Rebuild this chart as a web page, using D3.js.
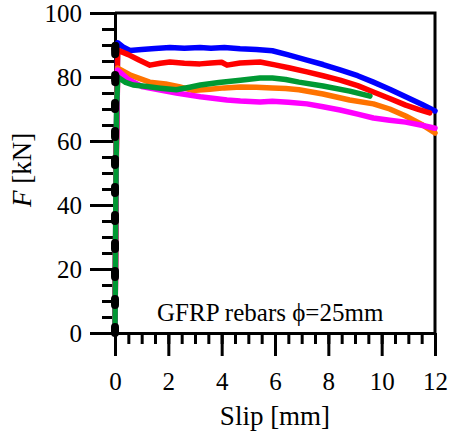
<!DOCTYPE html>
<html>
<head>
<meta charset="utf-8">
<script src="https://cdn.jsdelivr.net/npm/d3@7"></script>
<style>
  body { margin: 0; background: #fff; }
  svg { font-family: "Liberation Serif", "Times New Roman", serif; }
</style>
</head>
<body>
<div id="chart"></div>
<script>
// force vs slip curves, one pair of arrays per specimen
var blueSlip = [0, 0.05, 0.1, 0.3, 0.56, 1.0, 1.5, 2.06, 2.6, 3.19, 3.6, 4.1, 4.69, 5.3, 5.9, 6.5, 7.2, 7.8, 8.44, 9.1, 9.69, 10.3, 10.9, 11.5, 12.0]
var blueF = [0, 60, 90.7, 89.4, 88.3, 88.6, 88.9, 89.2, 89.0, 89.2, 89.0, 89.2, 88.8, 88.6, 88.2, 86.9, 85.3, 83.9, 82.2, 80.4, 78.4, 76.2, 73.8, 71.5, 69.4]
var redSlip = [0, 0.05, 0.1, 0.5, 0.9, 1.31, 1.7, 2.06, 2.6, 3.19, 3.6, 4.0, 4.2, 4.69, 5.44, 6.0, 6.56, 7.2, 7.8, 8.44, 9.1, 9.69, 10.3, 10.9, 11.4, 11.8]
var redF = [0, 60, 88.4, 87.0, 85.3, 83.7, 84.3, 84.7, 84.3, 84.1, 84.4, 84.6, 83.7, 84.4, 84.7, 83.8, 82.8, 81.6, 80.4, 79.0, 77.3, 75.3, 73.3, 71.2, 69.8, 68.8]
var orangeSlip = [0, 0.05, 0.1, 0.6, 1.3, 1.9, 2.4, 2.9, 3.56, 4.1, 4.7, 5.3, 5.9, 6.4, 6.9, 7.8, 8.8, 9.69, 10.3, 10.9, 11.5, 12.0]
var orangeF = [0, 55, 82.8, 80.5, 78.4, 77.8, 77.0, 75.8, 76.2, 76.6, 76.9, 76.8, 76.6, 76.4, 76.0, 74.7, 72.8, 71.6, 70.0, 67.8, 65.2, 62.5]
var magentaSlip = [0, 0.05, 0.1, 0.5, 1.05, 1.7, 2.3, 3.2, 4.2, 4.7, 5.44, 5.9, 6.5, 7.2, 7.8, 8.44, 9.1, 9.69, 10.3, 10.9, 11.5, 12.0]
var magentaF = [0, 55, 82.2, 79.2, 76.9, 75.9, 75.0, 73.8, 72.8, 72.5, 72.2, 72.4, 72.1, 71.6, 70.7, 69.7, 68.4, 67.2, 66.5, 65.9, 64.9, 64.0]
var greenSlip = [0, 0.03, 0.06, 0.1, 0.4, 0.68, 1.2, 1.7, 2.3, 2.8, 3.2, 3.9, 4.7, 5.44, 5.9, 6.4, 6.9, 7.8, 8.8, 9.56]
var greenF = [0, 40, 70, 80.0, 78.3, 77.5, 77.0, 76.5, 76.0, 76.8, 77.5, 78.3, 79.0, 79.7, 79.7, 79.2, 78.4, 77.2, 75.6, 74.0]
var blackSlip = [0, 0.0, 0.01, 0.02, 0.0, 0.02, 0.0]
var blackF = [0, 70, 93, 86, 90, 80, 77]

var xTicks = [0, 2, 4, 6, 8, 10, 12]
var yTicks = [0, 20, 40, 60, 80, 100]

var series = [
    { slip: blueSlip, f: blueF, color: "#0000ff" },
    { slip: redSlip, f: redF, color: "#ff0000" },
    { slip: orangeSlip, f: orangeF, color: "#ff7300" },
    { slip: magentaSlip, f: magentaF, color: "#ff00ff" },
    { slip: greenSlip, f: greenF, color: "#009933" }
]

const margin = { top: 13, left: 115, right: 14, bottom: 106 },
    W = 449, H = 439,
    width = W - margin.left - margin.right,
    height = H - margin.top - margin.bottom

var svg = d3.select("#chart").append("svg")
    .attr("width", W)
    .attr("height", H)

const x = d3.scaleLinear().domain([0, 12]).range([margin.left, margin.left + width])
const y = d3.scaleLinear().domain([0, 100]).range([margin.top + height, margin.top])

var line = d3.line().x(d => x(d[0])).y(d => y(d[1]))

// frame
svg.append("path")
    .attr("d", `M${x(0)},${y(100)}H${x(12)}V${y(0)}`)
    .attr("fill", "none")
    .attr("stroke", "#000")
    .attr("stroke-width", 3)

// minor ticks
svg.append("g")
    .attr("transform", `translate(${margin.left},0)`)
    .call(d3.axisLeft(y).tickValues(d3.range(0, 101, 5)).tickSize(13).tickSizeOuter(0).tickFormat(""))
    .call(g => g.selectAll("line").attr("stroke-width", 3))
    .call(g => g.select(".domain").remove())
svg.append("g")
    .attr("transform", `translate(0,${margin.top + height})`)
    .call(d3.axisBottom(x).tickValues(d3.range(0, 12.01, 0.5)).tickSize(11).tickSizeOuter(0).tickFormat(""))
    .call(g => g.selectAll("line").attr("stroke-width", 3))
    .call(g => g.select(".domain").remove())

// major ticks + labels
svg.append("g")
    .attr("transform", `translate(${margin.left},0)`)
    .call(d3.axisLeft(y).tickValues(yTicks).tickSize(25).tickSizeOuter(0).tickPadding(8))
    .call(g => g.selectAll("line").attr("stroke-width", 3))
    .call(g => g.select(".domain").attr("stroke-width", 3))
    .call(g => g.selectAll("text").attr("font-size", 25).attr("font-family", "Liberation Serif").attr("fill", "#000"))
svg.append("g")
    .attr("transform", `translate(0,${margin.top + height})`)
    .call(d3.axisBottom(x).tickValues(xTicks).tickSize(23).tickSizeOuter(0))
    .call(g => g.selectAll("line").attr("stroke-width", 3))
    .call(g => g.select(".domain").attr("stroke-width", 3))
    .call(g => g.selectAll("text").attr("font-size", 25).attr("font-family", "Liberation Serif").attr("fill", "#000")
        .attr("y", 57).attr("dy", null))

// curves drawn over the axes
var plot = svg.append("g")
series.forEach(s => {
    plot.append("path")
        .datum(s.slip.map((v, i) => [v, s.f[i]]))
        .attr("d", line)
        .attr("fill", "none")
        .attr("stroke", s.color)
        .attr("stroke-width", 5.5)
        .attr("stroke-linejoin", "round")
        .attr("stroke-linecap", "round")
})
plot.append("path")
    .datum(blackSlip.map((v, i) => [v, blackF[i]]))
    .attr("d", line)
    .attr("fill", "none")
    .attr("stroke", "#000")
    .attr("stroke-width", 8)
    .attr("stroke-linecap", "round")
    .attr("stroke-dasharray", "6,22")

// titles
svg.append("text")
    .attr("x", x(6))
    .attr("y", 425)
    .attr("text-anchor", "middle")
    .attr("font-size", 27)
    .text("Slip [mm]")

var yt = svg.append("text")
    .attr("transform", "translate(31,170) rotate(-90)")
    .attr("text-anchor", "middle")
    .attr("font-size", 27)
yt.append("tspan").attr("font-style", "italic").text("F")
yt.append("tspan").text(" [kN]")

svg.append("text")
    .attr("x", 157)
    .attr("y", 321)
    .attr("font-size", 25)
    .text("GFRP rebars \u03d5=25mm")
</script>
</body>
</html>
